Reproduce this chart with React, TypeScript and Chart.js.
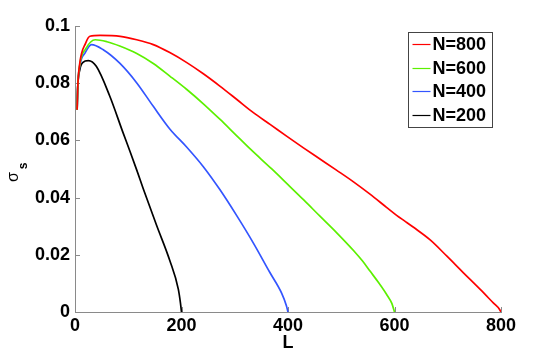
import React, { useEffect, useRef } from "react";
import { Chart, registerables } from "chart.js";

Chart.register(...registerables);

// ---- data ----
const seriesLabels = ["N=800", "N=600", "N=400", "N=200"];
const seriesColors = ["#ff0000", "#5cf000", "#3355ff", "#000000"];

const L800 = [4, 5, 9, 20, 28, 47, 85, 116, 147, 178, 210, 241, 272, 304, 335, 367, 398, 429, 460, 491, 523, 554, 585, 604, 620, 635, 667, 698, 729, 761, 786, 797, 800];
const S800 = [0.0707, 0.078, 0.087, 0.094, 0.0964, 0.0967, 0.0964, 0.0952, 0.0935, 0.0907, 0.0872, 0.0833, 0.0790, 0.0743, 0.0697, 0.0655, 0.0614, 0.0574, 0.0535, 0.0496, 0.0455, 0.0412, 0.0366, 0.0338, 0.0317, 0.0297, 0.0252, 0.0196, 0.0138, 0.0079, 0.0031, 0.0010, 0];

const L600 = [4, 5, 9, 20, 38, 60, 84, 116, 147, 178, 210, 241, 272, 300, 329, 369, 398, 430, 460, 492, 523, 540, 554, 570, 585, 595, 600];
const S600 = [0.0707, 0.078, 0.0865, 0.092, 0.0952, 0.0945, 0.0930, 0.0904, 0.0869, 0.0825, 0.0778, 0.0728, 0.0674, 0.0623, 0.0570, 0.0501, 0.0449, 0.0391, 0.0335, 0.0276, 0.0215, 0.0178, 0.0143, 0.0103, 0.0062, 0.0030, 0];

const L400 = [4, 5, 9, 19, 31, 53, 84, 116, 147, 178, 210, 241, 272, 304, 335, 366, 388, 397, 400];
const S400 = [0.0707, 0.078, 0.086, 0.0906, 0.0935, 0.0917, 0.0870, 0.0801, 0.0719, 0.0640, 0.0576, 0.0508, 0.0428, 0.0336, 0.0241, 0.0138, 0.0066, 0.0022, 0];

const L200 = [4, 5, 9, 15, 25, 40, 65, 90, 103, 116, 128, 153, 178, 194, 198, 200];
const S200 = [0.0707, 0.078, 0.0847, 0.0873, 0.0879, 0.0859, 0.0756, 0.0628, 0.0563, 0.0496, 0.0432, 0.0304, 0.0180, 0.0080, 0.0032, 0];

const seriesL = [L800, L600, L400, L200];
const seriesS = [S800, S600, S400, S200];

const xTicks = [0, 200, 400, 600, 800];
const xTickLabels = ["0", "200", "400", "600", "800"];
const yTicks = [0, 0.02, 0.04, 0.06, 0.08, 0.1];
const yTickLabels = ["0", "0.02", "0.04", "0.06", "0.08", "0.1"];

const xTitle = "L";
const yTitleMain = "σ";
const yTitleSub = "s";

// ---- styles ----
const FONT = '"Liberation Sans", Arial, Helvetica, sans-serif';
const axisColor = "#8a8a8a";

const decorPlugin = {
  id: "decor",
  beforeDatasetsDraw(chart: any) {
    const { ctx, chartArea, scales } = chart;
    const x = scales.x;
    const y = scales.y;
    ctx.save();
    ctx.strokeStyle = axisColor;
    ctx.lineWidth = 1;
    ctx.beginPath();
    for (const v of yTicks) {
      const py = Math.round(y.getPixelForValue(v)) + 0.5;
      ctx.moveTo(chartArea.left, py);
      ctx.lineTo(chartArea.left + 5, py);
    }
    for (const v of xTicks) {
      const px = Math.round(x.getPixelForValue(v)) + 0.5;
      ctx.moveTo(px, chartArea.bottom);
      ctx.lineTo(px, chartArea.bottom - 5);
    }
    ctx.stroke();
    ctx.restore();
  },
  afterDraw(chart: any) {
    const { ctx, chartArea } = chart;
    // legend
    const bx = chartArea.left + 333.5;
    const by = chartArea.top + 6.5;
    const bw = 84;
    const bh = 95;
    ctx.save();
    ctx.fillStyle = "#ffffff";
    ctx.fillRect(bx, by, bw, bh);
    ctx.strokeStyle = "#444444";
    ctx.lineWidth = 1;
    ctx.strokeRect(bx, by, bw, bh);
    ctx.font = `bold 18px ${FONT}`;
    ctx.textBaseline = "middle";
    ctx.textAlign = "left";
    chart.data.datasets.forEach((ds: any, i: number) => {
      const ly = by + 11.5 + i * 23.6;
      ctx.strokeStyle = ds.borderColor;
      ctx.lineWidth = 1.2;
      ctx.beginPath();
      ctx.moveTo(bx + 4, Math.round(ly) + 0.5);
      ctx.lineTo(bx + 22, Math.round(ly) + 0.5);
      ctx.stroke();
      ctx.fillStyle = "#000000";
      ctx.fillText(ds.label, bx + 24, ly + 1);
    });
    ctx.restore();

    // y-axis title with subscript
    ctx.save();
    ctx.translate(17.5, 182);
    ctx.rotate(-Math.PI / 2);
    ctx.fillStyle = "#000000";
    ctx.textBaseline = "alphabetic";
    ctx.textAlign = "left";
    ctx.font = `16px ${FONT}`;
    ctx.fillText(yTitleMain, 0, 0);
    const w = ctx.measureText(yTitleMain).width;
    ctx.font = `bold 12px ${FONT}`;
    ctx.fillText(yTitleSub, w + 3, 9.5);
    ctx.restore();
  },
};

export default function App() {
  const ref = useRef<HTMLCanvasElement | null>(null);

  useEffect(() => {
    if (!ref.current) return;
    const datasets = seriesLabels.map((label, i) => ({
      label,
      data: seriesL[i].map((l, j) => ({ x: l, y: seriesS[i][j] })),
      borderColor: seriesColors[i],
      backgroundColor: seriesColors[i],
      borderWidth: 1.7,
      pointRadius: 0,
      fill: false,
      cubicInterpolationMode: "monotone" as const,
    }));
    const tickFont = { family: FONT, size: 18, weight: "bold" as const };
    const chart = new Chart(ref.current, {
      type: "line",
      data: { datasets },
      options: {
        animation: false,
        responsive: false,
        maintainAspectRatio: false,
        layout: { padding: { left: 0, right: 53, top: 26, bottom: 0 } },
        plugins: {
          legend: { display: false },
          tooltip: { enabled: false },
        },
        scales: {
          x: {
            type: "linear",
            min: 0,
            max: 800,
            afterBuildTicks: (s: any) => {
              s.ticks = xTicks.map((v) => ({ value: v }));
            },
            afterFit: (s: any) => {
              s.height = 45;
            },
            ticks: {
              callback: (_v: any, i: number) => xTickLabels[i],
              font: tickFont,
              color: "#000000",
              padding: 3,
              maxRotation: 0,
              autoSkip: false,
            },
            grid: { display: true, drawOnChartArea: false, drawTicks: false },
            border: { display: true, color: axisColor, width: 1 },
            title: {
              display: true,
              text: xTitle,
              font: tickFont,
              color: "#000000",
              padding: { top: 0, bottom: 3 },
            },
          },
          y: {
            type: "linear",
            min: 0,
            max: 0.1,
            afterBuildTicks: (s: any) => {
              s.ticks = yTicks.map((v) => ({ value: v }));
            },
            afterFit: (s: any) => {
              s.width = 75;
            },
            ticks: {
              callback: (_v: any, i: number) => yTickLabels[i],
              font: tickFont,
              color: "#000000",
              padding: 5,
              autoSkip: false,
            },
            grid: { display: true, drawOnChartArea: false, drawTicks: false },
            border: { display: true, color: axisColor, width: 1 },
          },
        },
      },
      plugins: [decorPlugin],
    });
    return () => chart.destroy();
  }, []);

  return (
    <div style={{ position: "fixed", left: 0, top: 0, width: 554, height: 357, background: "#ffffff" }}>
      <canvas ref={ref} width={554} height={357} style={{ display: "block" }} />
    </div>
  );
}
